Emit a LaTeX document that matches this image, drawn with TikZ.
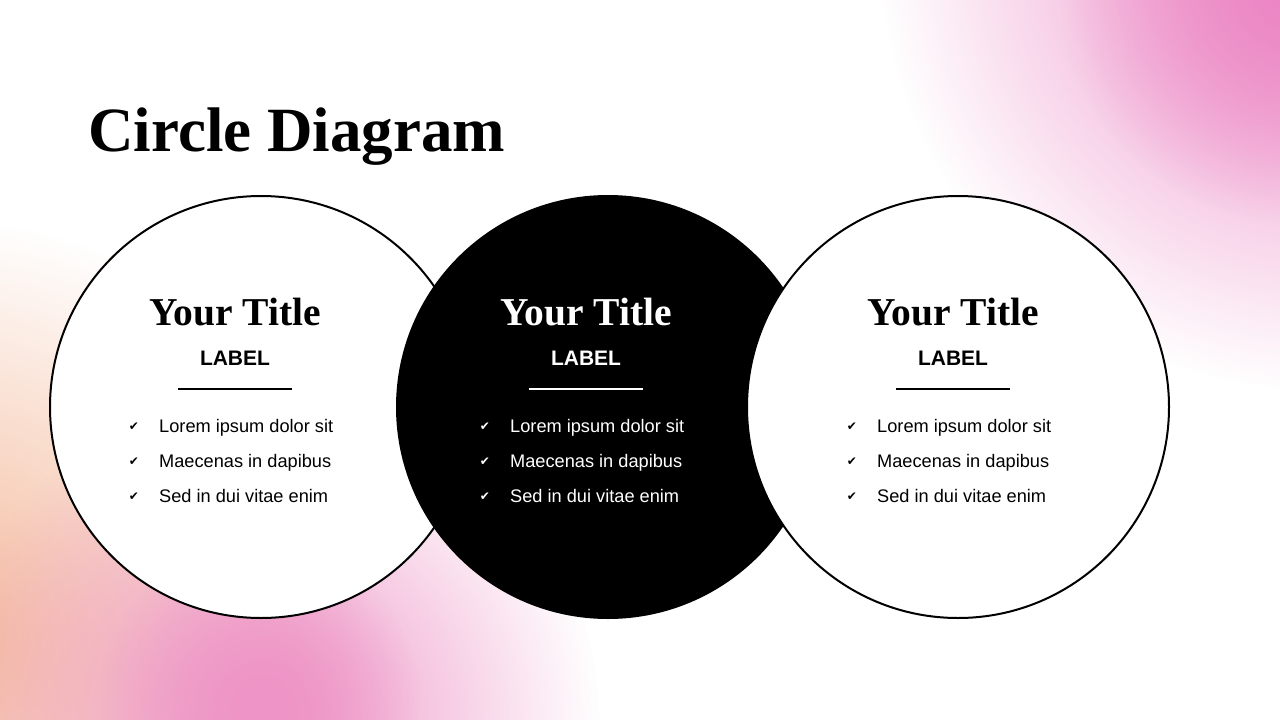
\documentclass[tikz,border=0pt]{standalone}
\usepackage{fontspec}
\setmainfont{Liberation Serif}
\newfontfamily\sansbody{Liberation Sans}
\newfontfamily\symbfont{DejaVu Sans}
\usetikzlibrary{fadings}
\definecolor{blobpink}{HTML}{EC86C4}
\definecolor{blobpeach}{HTML}{F4B898}
\definecolor{blobrose}{HTML}{EE94C6}
\tikzfading[name=blobfade,inner color=transparent!0,outer color=transparent!100]

\begin{document}
\begin{tikzpicture}[x=1pt,y=-1pt,
	ring/.style={circle,draw=black,line width=2pt,fill=white,minimum size=422pt,inner sep=0pt},
	disc/.style={circle,fill=black,minimum size=424pt,inner sep=0pt},
	heading/.style={font=\bfseries\fontsize{39.5}{39.5}\selectfont,anchor=base},
	tag/.style={font=\sansbody\bfseries\fontsize{21}{21}\selectfont,anchor=base},
	item/.style={font=\sansbody\fontsize{18.2}{18.2}\selectfont,anchor=base west,inner sep=0pt},
	tick/.style={font=\symbfont\fontsize{12}{12}\selectfont,inner sep=0pt}]
	%\draw[help lines] (0,0) grid (1280,720);
	\useasboundingbox (0,0) rectangle (1280,720);
	\fill[white] (0,0) rectangle (1280,720);
	
	% background blobs
	\begin{scope}
		\clip (0,0) rectangle (1280,720);
		\fill[blobpink,path fading=blobfade] (1320,-50) circle (440);
		\fill[blobpink,path fading=blobfade] (1290,-10) circle (230);
		\fill[blobpeach,path fading=blobfade] (-60,640) circle (420);
		\fill[blobrose,path fading=blobfade] (270,720) circle (330);
		\fill[blobrose,path fading=blobfade] (260,700) circle (160);
	\end{scope}
	
	\node[font=\bfseries\fontsize{63}{63}\selectfont,anchor=base west,inner sep=0pt] (title) at (88,151) {Circle Diagram};
	
	\node[ring] (left) at (261,407) {};
	\node[disc] (mid) at (608,407) {};
	\node[ring] (right) at (958,407) {};
	
	\foreach \cx/\name/\ink in {235/l/black,586/m/white,953/r/black}{
		\node[heading,text=\ink] (head-\name) at (\cx,325) {Your Title};
		\node[tag,text=\ink] (tag-\name) at (\cx,365) {LABEL};
		\coordinate (ua-\name) at (\cx-57,389);
		\coordinate (ub-\name) at (\cx+57,389);
		\draw[\ink,line width=2pt] (ua-\name) -- (ub-\name);
		\foreach \txt [count=\i] in {Lorem ipsum dolor sit,Maecenas in dapibus,Sed in dui vitae enim}{
			\node[tick,text=\ink] (tick-\name-\i) at (\cx-101,392+35*\i) {✔};
			\node[item,text=\ink] (item-\name-\i) at (\cx-76,397+35*\i) {\txt};
		}
	}
	
\end{tikzpicture}
\end{document}
